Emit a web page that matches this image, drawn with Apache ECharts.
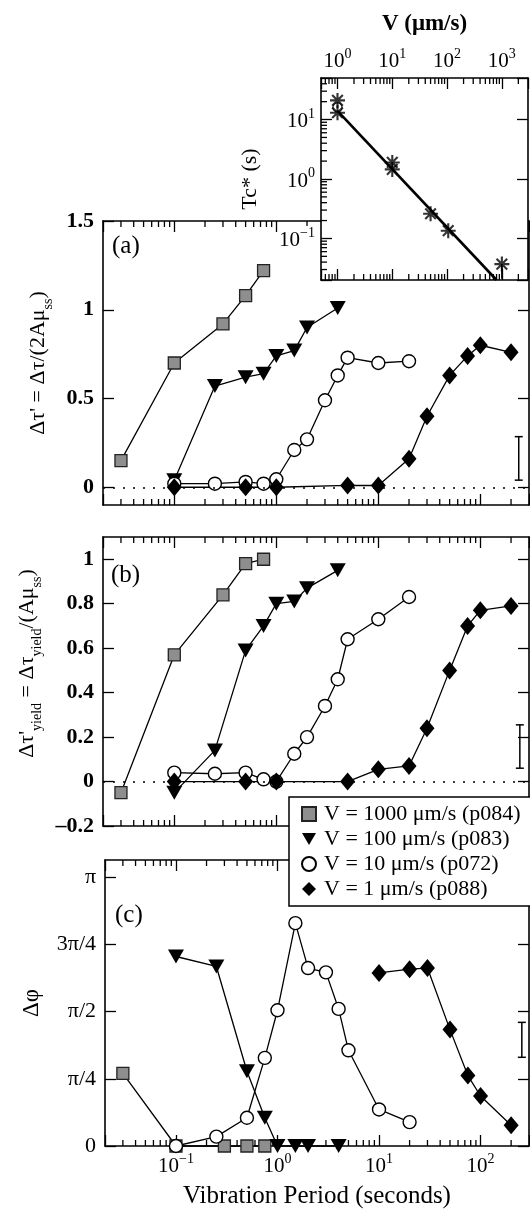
<!DOCTYPE html>
<html><head><meta charset="utf-8">
<script src="https://cdn.jsdelivr.net/npm/echarts@6/dist/echarts.min.js"></script>
<style>html,body{margin:0;padding:0;background:#fff}#c{width:530px;height:1213px}</style>
</head><body><div id="c"></div>
<script>
// ---------------- data ----------------
const seriesNames = ['V = 1000 μm/s (p084)', 'V = 100 μm/s (p083)', 'V = 10 μm/s (p072)', 'V = 1 μm/s (p088)'];

// vibration periods (s)
const periodsV1000 = [0.03, 0.1, 0.3, 0.5, 0.75];
const periodsV100  = [0.1, 0.25, 0.5, 0.75, 1, 1.5, 2, 4];
const periodsV10   = [0.1, 0.25, 0.5, 0.75, 1, 1.5, 2, 3, 4, 5, 10, 20];
const periodsV1    = [0.1, 0.5, 1, 5, 10, 20, 30, 50, 75, 100, 200];
const periodsV1Phase = [10, 20, 30, 50, 75, 100, 200];

// panel (a): dTau'
const dTauV1000 = [0.15, 0.70, 0.92, 1.08, 1.22];
const dTauV100  = [0.04, 0.57, 0.62, 0.64, 0.74, 0.77, 0.90, 1.01];
const dTauV10   = [0.02, 0.02, 0.03, 0.02, 0.045, 0.21, 0.27, 0.49, 0.63, 0.73, 0.70, 0.71];
const dTauV1    = [0, 0, 0, 0.01, 0.01, 0.16, 0.40, 0.63, 0.74, 0.80, 0.76];

// panel (b): dTau'_yield
const dYieldV1000 = [-0.05, 0.57, 0.84, 0.98, 1.00];
const dYieldV100  = [-0.05, 0.14, 0.59, 0.70, 0.80, 0.81, 0.87, 0.95];
const dYieldV10   = [0.04, 0.035, 0.04, 0.01, 0.0, 0.125, 0.20, 0.34, 0.46, 0.64, 0.73, 0.83];
const dYieldV1    = [0, 0, 0, 0, 0.055, 0.07, 0.24, 0.50, 0.70, 0.77, 0.79];

// panel (c): dPhi in units of pi
const phaseV1000 = [0.27, 0, 0, 0, 0];
const phaseV100  = [0.705, 0.668, 0.278, 0.105, 0, 0, 0, 0];
const phaseV10   = [0, 0.035, 0.105, 0.328, 0.505, 0.829, 0.662, 0.646, 0.51, 0.356, 0.136, 0.089];
const phaseV1    = [0.644, 0.658, 0.662, 0.433, 0.262, 0.186, 0.077];

// representative error bars [period, low, high]
const errBarA = [[238, 0.04, 0.285]];
const errBarB = [[244, 0.06, 0.255]];
const errBarC = [[255, 0.33, 0.46]];

// inset: Tc* vs V
const insetV  = [1, 1, 10, 10, 50, 105, 1000];
const insetTc = [21, 13, 1.9, 1.45, 0.26, 0.135, 0.037];
const insetCircleV = [1], insetCircleTc = [16];
const fitV = [1, 800], fitTc = [14, 0.02];
const insetErr = [[1000, 0.021, 0.037]];

// tick values
const ticksA = [0, 0.5, 1, 1.5];
const ticksB = [-0.2, 0, 0.2, 0.4, 0.6, 0.8, 1];
const ticksC = [0, 0.25, 0.5, 0.75, 1];
const phaseLabels = {0: '0', 0.25: 'π/4', 0.5: 'π/2', 0.75: '3π/4', 1: 'π'};
const minorTicksPeriod = [0.03, 0.04, 0.05, 0.06, 0.07, 0.08, 0.09,
  0.2, 0.3, 0.4, 0.5, 0.6, 0.7, 0.8, 0.9, 2, 3, 4, 5, 6, 7, 8, 9,
  20, 30, 40, 50, 60, 70, 80, 90, 200];
const minorTicksV = [0.6, 0.7, 0.8, 0.9, 2, 3, 4, 5, 6, 7, 8, 9, 20, 30, 40, 50, 60, 70, 80, 90,
  200, 300, 400, 500, 600, 700, 800, 900, 2000];
const minorTicksTc = [0.03, 0.04, 0.05, 0.06, 0.07, 0.08, 0.09, 0.2, 0.3, 0.4, 0.5, 0.6, 0.7, 0.8, 0.9,
  2, 3, 4, 5, 6, 7, 8, 9, 20, 30, 40];

// ---------------- chart ----------------
const FONT = 'Liberation Serif';
const chart = echarts.init(document.getElementById('c'), null, {renderer: 'canvas', width: 530, height: 1213});
const X_MIN = 0.02, X_MAX = 300;
const AX = {color: '#000', width: 1.6};
const TK = {color: '#000', width: 1.3};

const supRich = {
  b: {fontFamily: FONT, fontSize: 21, color: '#000', verticalAlign: 'bottom', padding: [4, 0, 0, 0]},
  s: {fontFamily: FONT, fontSize: 14, color: '#000', verticalAlign: 'top'}
};
function supLabel(v) {
  const l = Math.log10(v);
  const e = Math.round(l);
  if (Math.abs(l - e) > 1e-6) return '';
  return '{b|10}{s|' + (e < 0 ? '−' + (-e) : String(e)) + '}';
}
function logX(gridIndex, position, min, max, showLabel, extra) {
  return Object.assign({
    type: 'log', logBase: 10, gridIndex, position, min, max,
    axisLine: {show: true, onZero: false, lineStyle: AX},
    axisTick: {show: true, inside: true, length: 11, lineStyle: TK},
    axisLabel: {show: showLabel, formatter: supLabel, margin: 6, color: '#000', rich: supRich},
    splitLine: {show: false}
  }, extra || {});
}
function logY(gridIndex, position, min, max, showLabel, extra) {
  return Object.assign({
    type: 'log', logBase: 10, gridIndex, position, min, max,
    axisLine: {show: true, onZero: false, lineStyle: AX},
    axisTick: {show: true, inside: true, length: 11, lineStyle: TK},
    axisLabel: {show: showLabel, formatter: supLabel, margin: 6, color: '#000', rich: supRich},
    splitLine: {show: false}
  }, extra || {});
}
function valY(gridIndex, position, min, max, ticks, showLabel, fmt, extra) {
  return Object.assign({
    type: 'value', gridIndex, position, min, max,
    axisLine: {show: true, onZero: false, lineStyle: AX},
    axisTick: {show: true, inside: true, length: 11, customValues: ticks, lineStyle: TK},
    axisLabel: {show: showLabel, customValues: ticks, formatter: fmt, margin: 9, color: '#000',
                fontFamily: FONT, fontSize: 22, fontWeight: 'bold'},
    splitLine: {show: false}
  }, extra || {});
}
// error bar(s) of a panel, plus that panel's minor log ticks, drawn through the axes' scales
function errSeries(xIdx, yIdx, bars, cap, z, xr, yr, xMinor, yMinor) {
  return {
    type: 'custom', xAxisIndex: xIdx, yAxisIndex: yIdx, silent: true, z: z, clip: false, animation: false,
    data: bars,
    encode: {x: 0, y: [1, 2]},
    renderItem: (p, api) => {
      const lo = api.coord([api.value(0), api.value(1)]);
      const hi = api.coord([api.value(0), api.value(2)]);
      const st = {stroke: '#000', lineWidth: 1.5};
      const ch = [{type: 'line', shape: {x1: lo[0], y1: lo[1], x2: hi[0], y2: hi[1]}, style: st}];
      if (cap) {
        ch.push({type: 'line', shape: {x1: lo[0] - cap, y1: lo[1], x2: lo[0] + cap, y2: lo[1]}, style: st});
        ch.push({type: 'line', shape: {x1: hi[0] - cap, y1: hi[1], x2: hi[0] + cap, y2: hi[1]}, style: st});
      }
      if (p.dataIndex === 0) {
        const mst = {stroke: '#000', lineWidth: 1.3};
        (xMinor || []).forEach(v => {
          const b = api.coord([v, yr[0]]);
          const t = api.coord([v, yr[1]]);
          ch.push({type: 'line', shape: {x1: b[0], y1: b[1], x2: b[0], y2: b[1] - 6}, style: mst});
          ch.push({type: 'line', shape: {x1: t[0], y1: t[1], x2: t[0], y2: t[1] + 6}, style: mst});
        });
        (yMinor || []).forEach(v => {
          const l = api.coord([xr[0], v]);
          ch.push({type: 'line', shape: {x1: l[0], y1: l[1], x2: l[0] + 6, y2: l[1]}, style: mst});
        });
      }
      return {type: 'group', children: ch};
    }
  };
}

const TRI = 'path://M0,0L20,0L10,17Z';
const ASTER = 'path://M-1.4,-10L1.4,-10L1.4,10L-1.4,10Z M-10,-1.4L10,-1.4L10,1.4L-10,1.4Z M-8.1,-6.1L-6.1,-8.1L8.1,6.1L6.1,8.1Z M6.1,-8.1L8.1,-6.1L-6.1,8.1L-8.1,6.1Z';
const markers = [
  {symbol: 'rect', size: 12, item: {color: '#8e8e8e', borderColor: '#222', borderWidth: 1.3}},
  {symbol: TRI, size: [16, 14], item: {color: '#000', borderColor: '#000', borderWidth: 0}},
  {symbol: 'circle', size: 13, item: {color: '#fff', borderColor: '#000', borderWidth: 1.4}},
  {symbol: 'diamond', size: [15, 18], item: {color: '#000', borderColor: '#000', borderWidth: 0}}
];
function dataSeries(k, xIdx, yIdx, xs, ys, extra) {
  const m = markers[k];
  return Object.assign({
    type: 'line', name: seriesNames[k], xAxisIndex: xIdx, yAxisIndex: yIdx,
    data: xs.map((x, i) => [x, ys[i]]),
    symbol: m.symbol, symbolSize: m.size, showSymbol: true,
    itemStyle: m.item, lineStyle: {color: '#000', width: 1.3},
    clip: false, z: 3, animation: false
  }, extra || {});
}
const zeroLine = {
  symbol: ['none', 'none'], silent: true, animation: false,
  label: {show: false},
  lineStyle: {color: '#000', width: 1.5, type: [2, 8]},
  data: [{yAxis: 0}]
};

const nameRichBase = {
  t: {fontFamily: FONT, fontSize: 22, color: '#000', verticalAlign: 'top', padding: [0, 0, 6, 0]},
  u: {fontFamily: FONT, fontSize: 14, color: '#000', verticalAlign: 'bottom'}
};

const option = {
  backgroundColor: '#fff',
  animation: false,
  grid: [
    {left: 103, top: 221, width: 426, height: 284, outerBoundsMode: 'none'},
    {left: 103, top: 537, width: 426, height: 289, outerBoundsMode: 'none'},
    {left: 105, top: 860, width: 424, height: 286, outerBoundsMode: 'none'},
    {left: 321, top: 78, width: 207, height: 202, z: 10, show: true, backgroundColor: '#fff', borderWidth: 0, outerBoundsMode: 'none'}
  ],
  xAxis: [
    logX(0, 'bottom', X_MIN, X_MAX, false),
    logX(0, 'top', X_MIN, X_MAX, false),
    logX(1, 'bottom', X_MIN, X_MAX, false),
    logX(1, 'top', X_MIN, X_MAX, false),
    logX(2, 'bottom', X_MIN, X_MAX, true, {
      name: 'Vibration Period (seconds)', nameLocation: 'middle', nameGap: 38,
      nameTextStyle: {fontFamily: FONT, fontSize: 25, color: '#000'}
    }),
    logX(2, 'top', X_MIN, X_MAX, false),
    logX(3, 'top', 0.5, 3000, true, {
      z: 11,
      name: 'V (μm/s)', nameLocation: 'middle', nameGap: 42,
      nameTextStyle: {fontFamily: FONT, fontSize: 23, fontWeight: 'bold', color: '#000'}
    }),
    logX(3, 'bottom', 0.5, 3000, false, {z: 11})
  ],
  yAxis: [
    valY(0, 'left', -0.1, 1.5, ticksA, true, v => String(v), {
      name: '{t|Δτ\' = Δτ/(2Aμ}{u|ss}{t|)}', nameLocation: 'middle', nameGap: 48,
      nameTextStyle: {rich: nameRichBase}
    }),
    valY(0, 'right', -0.1, 1.5, ticksA, false, v => String(v)),
    valY(1, 'left', -0.2, 1.1, ticksB, true, v => (v < 0 ? '–' + Math.abs(v) : String(v)), {
      interval: 0.2,
      name: '{t|Δτ\'}{u|yield}{t| = Δτ}{u|yield}{t|/(Aμ}{u|ss}{t|)}', nameLocation: 'middle', nameGap: 56,
      nameTextStyle: {rich: nameRichBase, padding: [0, 0, 0, 36]}
    }),
    valY(1, 'right', -0.2, 1.1, ticksB, false, v => String(v), {interval: 0.2}),
    valY(2, 'left', 0, 1.064, ticksC, true, v => '', {
      interval: 0.25,
      axisLabel: {show: true, customValues: ticksC, formatter: v => (phaseLabels[v] !== undefined ? phaseLabels[v] : ''),
                  margin: 9, color: '#000', fontFamily: FONT, fontSize: 22},
      name: 'Δφ', nameLocation: 'middle', nameGap: 62,
      nameTextStyle: {fontFamily: FONT, fontSize: 23, color: '#000'}
    }),
    valY(2, 'right', 0, 1.064, ticksC, false, v => '', {interval: 0.25}),
    logY(3, 'left', 0.02, 50, true, {
      z: 11,
      name: 'Tc* (s)', nameLocation: 'middle', nameGap: 60,
      nameTextStyle: {fontFamily: FONT, fontSize: 22, color: '#000'},
      axisLabel: {show: true, formatter: supLabel, margin: 6, color: '#000', rich: supRich, backgroundColor: '#fff'}
    }),
    logY(3, 'right', 0.02, 50, false, {z: 11})
  ],
  legend: {
    show: true, orient: 'vertical', left: 289, top: 797,
    padding: [6, 40, 6, 12], itemGap: 3, itemWidth: 14, itemHeight: 14,
    backgroundColor: '#fff', borderColor: '#000', borderWidth: 1.5,
    selectedMode: false, z: 20,
    textStyle: {fontFamily: FONT, fontSize: 22, color: '#000', padding: [0, 0, 0, 3]},
    data: [
      {name: seriesNames[0], icon: 'rect'},
      {name: seriesNames[1], icon: TRI},
      {name: seriesNames[2], icon: 'circle'},
      {name: seriesNames[3], icon: 'diamond'}
    ]
  },
  graphic: [
    {type: 'text', x: 112, y: 246, style: {text: '(a)', fontFamily: FONT, fontSize: 25, fill: '#000', verticalAlign: 'middle'}},
    {type: 'text', x: 111, y: 575, style: {text: '(b)', fontFamily: FONT, fontSize: 25, fill: '#000', verticalAlign: 'middle'}},
    {type: 'text', x: 115, y: 915, style: {text: '(c)', fontFamily: FONT, fontSize: 25, fill: '#000', verticalAlign: 'middle'}}
  ],
  series: [
    // panel (a)
    dataSeries(0, 0, 0, periodsV1000, dTauV1000),
    dataSeries(1, 0, 0, periodsV100, dTauV100),
    dataSeries(2, 0, 0, periodsV10, dTauV10),
    dataSeries(3, 0, 0, periodsV1, dTauV1, {markLine: zeroLine}),
    errSeries(0, 0, errBarA, 4, 3, [X_MIN, X_MAX], [-0.1, 1.5], minorTicksPeriod, null),
    // panel (b)
    dataSeries(0, 2, 2, periodsV1000, dYieldV1000),
    dataSeries(1, 2, 2, periodsV100, dYieldV100),
    dataSeries(2, 2, 2, periodsV10, dYieldV10),
    dataSeries(3, 2, 2, periodsV1, dYieldV1, {markLine: zeroLine}),
    errSeries(2, 2, errBarB, 4, 3, [X_MIN, X_MAX], [-0.2, 1.1], minorTicksPeriod, null),
    // panel (c)
    dataSeries(0, 4, 4, periodsV1000, phaseV1000),
    dataSeries(1, 4, 4, periodsV100, phaseV100),
    dataSeries(2, 4, 4, periodsV10, phaseV10),
    dataSeries(3, 4, 4, periodsV1Phase, phaseV1),
    errSeries(4, 4, errBarC, 4, 3, [X_MIN, X_MAX], [0, 1.064], minorTicksPeriod, null),
    // inset
    {type: 'line', xAxisIndex: 6, yAxisIndex: 6, data: fitV.map((v, i) => [v, fitTc[i]]),
     symbol: 'none', lineStyle: {color: '#000', width: 2.6}, z: 12, clip: false, animation: false},
    {type: 'scatter', xAxisIndex: 6, yAxisIndex: 6, data: insetV.map((v, i) => [v, insetTc[i]]),
     symbol: ASTER, symbolSize: 15, itemStyle: {color: '#000'}, z: 13, animation: false},
    {type: 'scatter', xAxisIndex: 6, yAxisIndex: 6, data: insetCircleV.map((v, i) => [v, insetCircleTc[i]]),
     symbol: 'circle', symbolSize: 9, itemStyle: {color: 'rgba(255,255,255,0)', borderColor: '#000', borderWidth: 1.3}, z: 13, animation: false},
    errSeries(6, 6, insetErr, 0, 13, [0.5, 3000], [0.02, 50], minorTicksV, minorTicksTc)
  ]
};
chart.setOption(option);
</script>
</body></html>
